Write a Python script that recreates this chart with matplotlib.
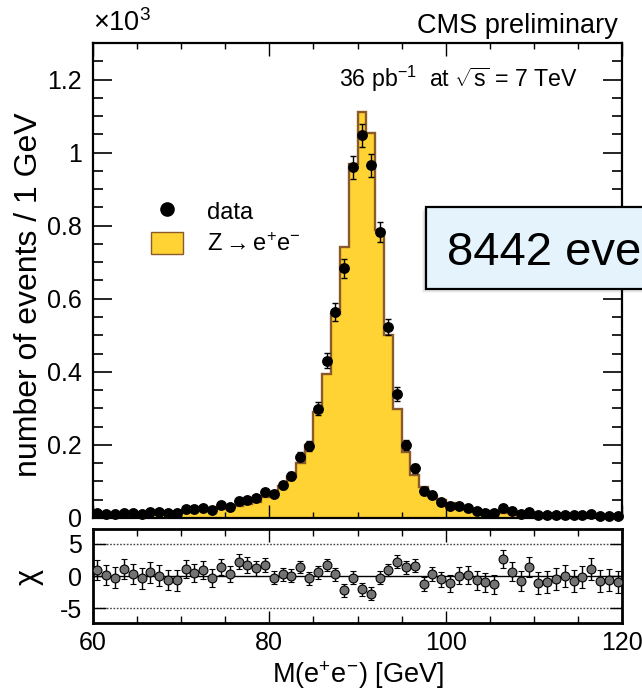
import numpy as np
import matplotlib
matplotlib.use("Agg")
import matplotlib.pyplot as plt
from matplotlib.patches import Rectangle, Patch
from matplotlib.lines import Line2D
from matplotlib.ticker import MultipleLocator, FuncFormatter

plt.rcParams['font.family'] = ['Liberation Sans', 'DejaVu Sans']
plt.rcParams['mathtext.fontset'] = 'custom'
plt.rcParams['mathtext.rm'] = 'Liberation Sans'
plt.rcParams['mathtext.it'] = 'Liberation Sans:italic'
plt.rcParams['mathtext.bf'] = 'Liberation Sans:bold'
plt.rcParams['axes.unicode_minus'] = False

# Dielectron invariant mass, 1 GeV bins from 60 to 120 GeV
mass_lo, mass_hi, bin_width = 60, 120, 1

data_counts = [13, 11, 11, 15, 13, 11, 16, 16, 13, 15,
               24, 24, 27, 22, 35, 31, 47, 49, 54, 72,
               67, 90, 114, 168, 196, 299, 430, 564, 683, 960,
               1047, 965, 783, 523, 339, 200, 136, 75, 63, 45,
               34, 34, 27, 20, 15, 13, 28, 20, 12, 17,
               7, 7, 7, 9, 7, 7, 11, 5, 5, 5]

zee_mc = [9.6, 10.5, 11.9, 10.8, 11.9, 12.2, 13.7, 15.8, 15.3, 17.6,
          18.7, 21.5, 22.4, 23.7, 26.7, 29.3, 31.6, 37, 45, 57.4,
          69, 87.5, 112, 151, 201, 289, 394, 558, 742, 968,
          1112, 1054, 787, 501, 298, 181, 117, 85, 61, 48.5,
          40.7, 34, 26, 23, 18.8, 17.7, 14, 17, 14.7, 11.2,
          9.9, 9.6, 8.2, 8.8, 8.9, 7.6, 7.5, 6.7, 6.4, 7.2]

chi_vals = [0.94, 0.16, -0.26, 1.09, 0.31, -0.36, 0.57, 0.05, -0.63, -0.68,
            1.09, 0.52, 0.89, -0.36, 1.40, 0.31, 2.24, 1.72, 1.20, 1.72,
            -0.26, 0.26, 0.05, 1.40, -0.36, 0.57, 1.72, 0.26, -2.24, -0.26,
            -2.03, -2.76, -0.26, 0.94, 2.24, 1.35, 1.61, -1.20, 0.26, -0.52,
            -1.15, 0.05, 0.16, -0.68, -0.99, -1.30, 2.66, 0.68, -0.78, 1.40,
            -1.09, -0.99, -0.47, 0.05, -0.73, -0.21, 1.04, -0.78, -0.63, -0.99]

chi_errs = [1.6, 1.6, 1.6, 1.6, 1.6, 1.6, 1.6, 1.6, 1.6, 1.6,
            1.4, 1.4, 1.4, 1.4, 1.3, 1.3, 1.2, 1.2, 1.2, 1.1,
            1.0, 1.0, 1.0, 1.0, 1.0, 1.0, 1.0, 1.0, 1.0, 1.0,
            1.0, 1.0, 1.0, 1.0, 1.0, 1.0, 1.0, 1.1, 1.1, 1.2,
            1.3, 1.3, 1.4, 1.5, 1.5, 1.5, 1.4, 1.5, 1.6, 1.6,
            1.7, 1.7, 1.7, 1.7, 1.7, 1.7, 1.7, 1.7, 1.7, 1.7]

n_events_text = "8442 events"

edges = np.arange(mass_lo, mass_hi + bin_width, bin_width)
centers = 0.5 * (edges[:-1] + edges[1:])
data = np.array(data_counts, dtype=float)
mc = np.array(zee_mc, dtype=float)

yellow = '#ffd333'
brown = '#8b5a2b'

fig = plt.figure(figsize=(6.42, 6.90), dpi=100)
ax = fig.add_axes([0.1449, 0.2493, 0.824, 0.6884])
axr = fig.add_axes([0.1449, 0.0971, 0.824, 0.1362])

# ---- main panel ----
ax.stairs(mc, edges, fill=True, facecolor=yellow, edgecolor='none', zorder=1)
ax.stairs(mc, edges, color=brown, lw=1.7, baseline=None, zorder=2)
ax.errorbar(centers, data, yerr=np.sqrt(data), fmt='o', color='k', ms=6.8,
            elinewidth=1.0, capsize=2, capthick=1.0, zorder=3, clip_on=False)

ax.set_xlim(mass_lo, mass_hi)
ax.set_ylim(0, 1300)
ax.xaxis.set_major_locator(MultipleLocator(20))
ax.xaxis.set_minor_locator(MultipleLocator(5))
ax.yaxis.set_major_locator(MultipleLocator(200))
ax.yaxis.set_minor_locator(MultipleLocator(50))
ax.yaxis.set_major_formatter(FuncFormatter(lambda v, p: f'{v / 1000:g}'))
ax.tick_params(which='both', direction='in', top=True, right=True,
               labelbottom=False, labelsize=18)
ax.tick_params(axis='y', which='major', length=14, width=1.2, pad=8)
ax.tick_params(axis='y', which='minor', length=7, width=1.2)
ax.tick_params(axis='x', which='major', length=9.5, width=1.0)
ax.tick_params(axis='x', which='minor', length=4.5, width=1.0)
for s in ax.spines.values():
    s.set_linewidth(1.6)

ax.text(0.0, 1.012, r'$\times10^{3}$', transform=ax.transAxes, fontsize=19.5,
        ha='left', va='bottom')
fig.text(618 / 642, 1 - 33 / 690, 'CMS preliminary', fontsize=19.5,
         ha='right', va='baseline')
ax.text(0.917, 0.907, r'36 pb$^{-1}$  at $\sqrt{\mathrm{s}}$ = 7 TeV',
        transform=ax.transAxes, fontsize=16.7, ha='right', va='baseline')

handles = [Line2D([], [], marker='o', ls='none', color='k', ms=9.5),
           Patch(facecolor=yellow, edgecolor=brown, lw=1.0)]
ax.legend(handles, [r'data', r'Z$\rightarrow$e$^{+}$e$^{-}$'],
          loc='upper left', bbox_to_anchor=(0.1096, 0.6705), frameon=False,
          fontsize=17, borderpad=0, borderaxespad=0, handlelength=1.36,
          handleheight=1.06, handletextpad=1.0, labelspacing=0.34)

fig.text(0.045, 1 - 112 / 690, 'number of events / 1 GeV', rotation=90,
         fontsize=23, ha='center', va='top')

# ---- residual panel ----
axr.axhline(0, color='k', lw=1.0, zorder=1)
for lvl in (-5, 5):
    axr.axhline(lvl, color='#444444', lw=1.0, ls=(0, (1.2, 1.2)), zorder=1)
axr.errorbar(centers, chi_vals, yerr=chi_errs, fmt='o', mfc='#737373',
             mec='k', mew=0.8, ms=6.4, ecolor='k', elinewidth=1.0,
             capsize=2, capthick=1.0, zorder=3)
axr.set_xlim(mass_lo, mass_hi)
axr.set_ylim(-7.3, 7.3)
axr.set_yticks([-5, 0, 5])
axr.xaxis.set_major_locator(MultipleLocator(20))
axr.xaxis.set_minor_locator(MultipleLocator(5))
axr.tick_params(which='both', direction='in', top=True, right=True,
                labelsize=18)
axr.tick_params(axis='x', which='major', length=9, width=1.0, pad=6)
axr.tick_params(axis='x', which='minor', length=5, width=1.0)
axr.tick_params(axis='y', which='major', length=9, width=1.0, pad=8)
for s in axr.spines.values():
    s.set_linewidth(2.0)
axr.set_xlabel('M(e$^{+}$e$^{-}$) [GeV]', fontsize=19.5, labelpad=3)
fig.text(0.045, 1 - 577 / 690, 'χ', rotation=90, fontsize=22,
         ha='center', va='center')

# ---- event-count callout, running off the right edge ----
bx0, by0 = 426 / 642, 1 - 289 / 690
bw, bh = 0.5, 82 / 690
for k, a in enumerate([0.10, 0.08, 0.06]):
    off = (k + 1) * 1.5
    sh = Rectangle((bx0 - off / 642, by0 - off / 690), bw, bh,
                   transform=fig.transFigure, facecolor='#555555',
                   edgecolor='none', alpha=a, zorder=9)
    fig.add_artist(sh)
box = Rectangle((bx0, by0), bw, bh, transform=fig.transFigure,
                facecolor='#e4f3fc', edgecolor='k', lw=1.6, zorder=10)
fig.add_artist(box)
fig.text(447 / 642, 1 - 265 / 690, n_events_text, fontsize=34,
         ha='left', va='baseline', zorder=11)

fig.savefig('out.png', dpi=100)
